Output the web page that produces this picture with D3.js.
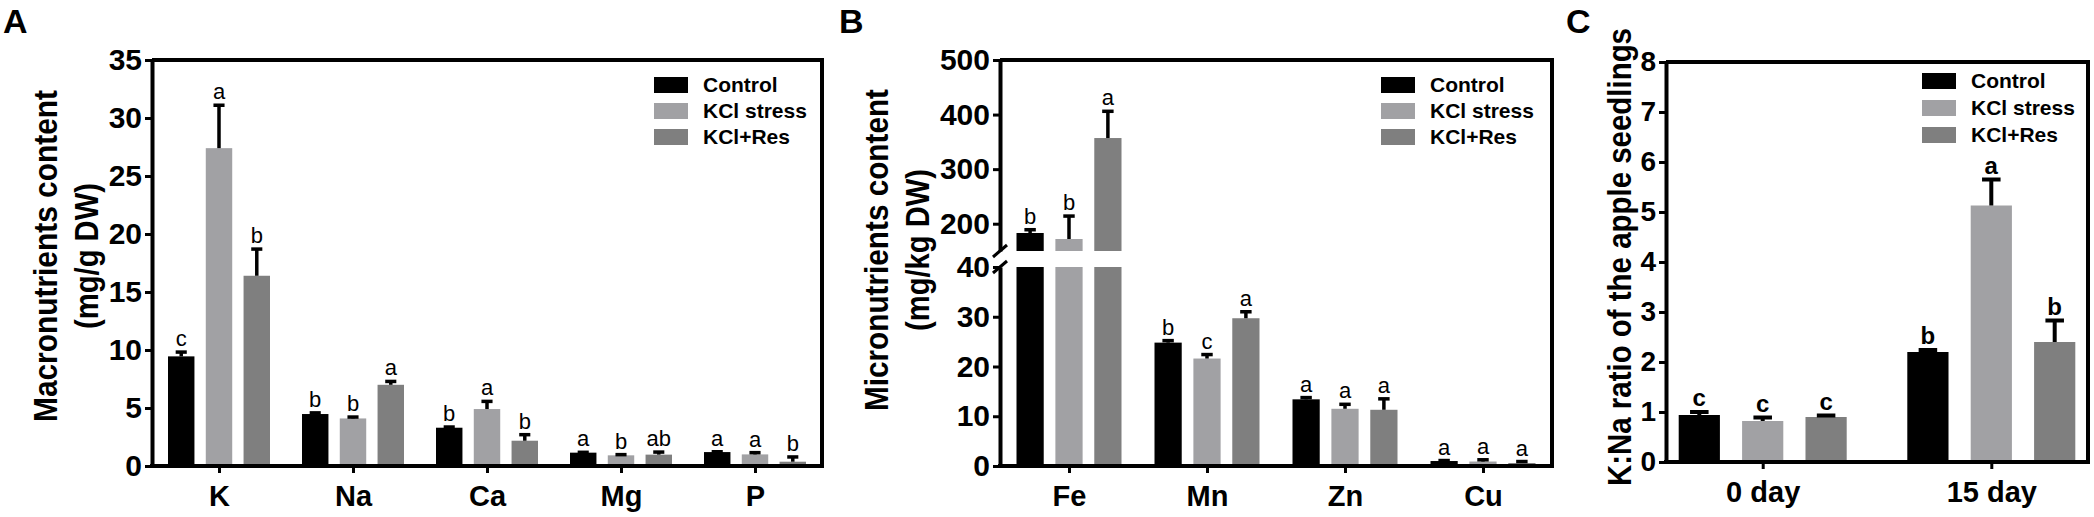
<!DOCTYPE html>
<html>
<head>
<meta charset="utf-8">
<script src="https://cdn.jsdelivr.net/npm/d3@7"></script>
<style>
  html, body { margin: 0; padding: 0; background: #fff; }
  svg { display: block; font-family: "Liberation Sans", Arial, sans-serif; }
</style>
</head>
<body>
<svg id="fig" width="2094" height="517"></svg>
<script>
// series shared by the three panels
var seriesNames = ["Control", "KCl stress", "KCl+Res"];

// panel A : macronutrients (mg/g DW)
var macroElements = ["K", "Na", "Ca", "Mg", "P"];
var macroControl = [9.45, 4.48, 3.3, 1.15, 1.2];
var macroControlErr = [0.37, 0.1, 0.06, 0.03, 0.03];
var macroKCl = [27.4, 4.1, 4.91, 0.92, 1.0];
var macroKClErr = [3.7, 0.12, 0.66, 0.06, 0.15];
var macroRes = [16.4, 7.0, 2.18, 0.98, 0.37];
var macroResErr = [2.3, 0.29, 0.52, 0.22, 0.41];
var macroControlSig = ["c", "b", "b", "a", "a"];
var macroKClSig = ["a", "b", "a", "b", "a"];
var macroResSig = ["b", "a", "b", "ab", "b"];
var macroTicks = [0, 5, 10, 15, 20, 25, 30, 35];

// panel B : micronutrients (mg/kg DW), broken axis
var microElements = ["Fe", "Mn", "Zn", "Cu"];
var microControl = [183, 24.8, 13.4, 1.0];
var microControlErr = [6, 0.4, 0.35, 0.1];
var microKCl = [172, 21.6, 11.5, 0.9];
var microKClErr = [42, 0.8, 0.9, 0.35];
var microRes = [357, 29.7, 11.3, 0.6];
var microResErr = [49, 1.3, 2.2, 0.3];
var microControlSig = ["b", "b", "a", "a"];
var microKClSig = ["b", "c", "a", "a"];
var microResSig = ["a", "a", "a", "a"];
var microLowTicks = [0, 10, 20, 30, 40];
var microHighTicks = [200, 300, 400, 500];

// panel C : K:Na ratio
var days = ["0 day", "15 day"];
var ratioControl = [0.94, 2.2];
var ratioControlErr = [0.06, 0.04];
var ratioKCl = [0.82, 5.13];
var ratioKClErr = [0.07, 0.52];
var ratioRes = [0.9, 2.4];
var ratioResErr = [0.03, 0.43];
var ratioControlSig = ["c", "b"];
var ratioKClSig = ["c", "a"];
var ratioResSig = ["c", "b"];
var ratioTicks = [0, 1, 2, 3, 4, 5, 6, 7, 8];

var colors = ["#000000", "#a1a1a4", "#7f7f7f"];
var svg = d3.select("#fig");

function rows(cats, vals, errs, sigs) {
  var out = [];
  cats.forEach(function(c, i) {
    seriesNames.forEach(function(s, j) {
      out.push({ cat: c, series: s, idx: j, v: vals[j][i], e: errs[j][i], sig: sigs[j][i] });
    });
  });
  return out;
}

function panel(o) {
  var g = svg.append("g");
  var x = d3.scalePoint().domain(o.cats).range([o.left, o.right]).padding(o.pad);
  var xi = d3.scaleBand().domain(seriesNames).range([-o.inner, o.inner]).paddingInner(o.gap);
  var bw = xi.bandwidth();
  var data = rows(o.cats, o.vals, o.errs, o.sigs);

  // bars
  data.forEach(function(d) {
    var bx = x(d.cat) + xi(d.series);
    o.segments(d.v).forEach(function(s) {
      g.append("rect").attr("x", bx).attr("width", bw)
        .attr("y", s[1]).attr("height", Math.max(0, s[0] - s[1]))
        .attr("fill", colors[d.idx]);
    });
    var cx = bx + bw / 2, yt = o.y(d.v + d.e), cw = bw * o.cap;
    g.append("line").attr("x1", cx).attr("x2", cx).attr("y1", o.y(d.v)).attr("y2", yt)
      .attr("stroke", "#000").attr("stroke-width", o.ew);
    g.append("line").attr("x1", cx - cw / 2).attr("x2", cx + cw / 2).attr("y1", yt).attr("y2", yt)
      .attr("stroke", "#000").attr("stroke-width", o.ew);
    g.append("text").attr("x", cx).attr("y", yt - 6).attr("text-anchor", "middle")
      .attr("font-size", o.sigSize).attr("font-weight", o.sigWeight).text(d.sig);
  });

  // frame top/right
  g.append("path").attr("d", "M" + o.left + "," + o.top + "H" + o.right + "V" + o.bottom)
    .attr("fill", "none").attr("stroke", "#000").attr("stroke-width", 4);

  // y axes
  o.axes.forEach(function(a) {
    var ax = g.append("g").attr("transform", "translate(" + o.left + ",0)")
      .call(d3.axisLeft(a.scale).tickValues(a.ticks).tickSize(7).tickSizeOuter(0).tickPadding(3));
    ax.select(".domain").attr("stroke-width", 4);
    ax.selectAll(".tick line").attr("stroke-width", 3);
    ax.selectAll("text").attr("font-size", o.tickSize).attr("font-weight", "bold").attr("fill", "#000");
  });

  // x axis
  var xa = g.append("g").attr("transform", "translate(0," + o.bottom + ")")
    .call(d3.axisBottom(x).tickSize(7).tickSizeOuter(0).tickPadding(12));
  xa.select(".domain").attr("stroke-width", 4).attr("d", "M" + (o.left - 2) + ",0H" + (o.right + 2));
  xa.selectAll(".tick line").attr("stroke-width", 3);
  xa.selectAll("text").attr("font-size", 29).attr("font-weight", "bold").attr("fill", "#000");

  // y title (slightly condensed like the original)
  o.title.forEach(function(t, i) {
    g.append("text").attr("transform", "translate(" + o.titleX[i] + "," + o.titleY + ") rotate(-90)")
      .attr("text-anchor", "middle").attr("dy", "0.35em")
      .attr("font-size", 33).attr("font-weight", "bold")
      .attr("textLength", o.titleLen[i]).attr("lengthAdjust", "spacingAndGlyphs").text(t);
  });

  // legend
  seriesNames.forEach(function(s, i) {
    var ly = o.legY + i * o.legStep;
    g.append("rect").attr("x", o.legX).attr("y", ly).attr("width", 34).attr("height", 16).attr("fill", colors[i]);
    g.append("text").attr("x", o.legX + 49).attr("y", ly + 15)
      .attr("font-size", 21).attr("font-weight", "bold").text(s);
  });

  // panel letter
  g.append("text").attr("x", o.labX).attr("y", 33).attr("font-size", 34).attr("font-weight", "bold").text(o.label);
  return g;
}

// A
var yA = d3.scaleLinear().domain([0, 35]).range([466, 60]);
panel({
  label: "A", labX: 3,
  cats: macroElements, left: 152, right: 822, top: 60, bottom: 466, pad: 0.5, inner: 51, gap: 0.3,
  vals: [macroControl, macroKCl, macroRes], errs: [macroControlErr, macroKClErr, macroResErr],
  sigs: [macroControlSig, macroKClSig, macroResSig],
  y: yA, segments: function(v) { return [[yA(0), yA(v)]]; },
  axes: [{ scale: yA, ticks: macroTicks }], tickSize: 30,
  cap: 0.42, ew: 3.5, sigSize: 22, sigWeight: "normal",
  title: ["Macronutrients content", "(mg/g DW)"], titleX: [45, 86], titleY: 256, titleLen: [332, 146],
  legX: 654, legY: 77, legStep: 26
});

// B (broken y axis)
var yBlow = d3.scaleLinear().domain([0, 40]).range([466, 267]);
var yBhigh = d3.scaleLinear().domain([150, 500]).range([251, 60]);
function yB(v) { return v <= 40 ? yBlow(v) : yBhigh(v); }
var gB = panel({
  label: "B", labX: 839,
  cats: microElements, left: 1000, right: 1552, top: 60, bottom: 466, pad: 0.5, inner: 52.5, gap: 0.3,
  vals: [microControl, microKCl, microRes], errs: [microControlErr, microKClErr, microResErr],
  sigs: [microControlSig, microKClSig, microResSig],
  y: yB,
  segments: function(v) {
    if (v <= 40) return [[yBlow(0), yBlow(v)]];
    return [[yBlow(0), yBlow(40)], [yBhigh(150), yBhigh(v)]];
  },
  axes: [{ scale: yBlow, ticks: microLowTicks }, { scale: yBhigh, ticks: microHighTicks }], tickSize: 30,
  cap: 0.42, ew: 3.5, sigSize: 22, sigWeight: "normal",
  title: ["Micronutrients content", "(mg/kg DW)"], titleX: [876, 917], titleY: 250, titleLen: [322, 162],
  legX: 1381, legY: 77, legStep: 26
});
// axis break marks
[yBhigh(150), yBlow(40)].forEach(function(yy) {
  gB.append("line").attr("x1", 993).attr("x2", 1007).attr("y1", yy + 6).attr("y2", yy - 6)
    .attr("stroke", "#000").attr("stroke-width", 3);
});

// C
var yC = d3.scaleLinear().domain([0, 8]).range([462, 62]);
panel({
  label: "C", labX: 1566,
  cats: days, left: 1666, right: 2088, top: 62, bottom: 462, pad: 0.423, inner: 84, gap: 0.35,
  vals: [ratioControl, ratioKCl, ratioRes], errs: [ratioControlErr, ratioKClErr, ratioResErr],
  sigs: [ratioControlSig, ratioKClSig, ratioResSig],
  y: yC, segments: function(v) { return [[yC(0), yC(v)]]; },
  axes: [{ scale: yC, ticks: ratioTicks }], tickSize: 28,
  cap: 0.45, ew: 4, sigSize: 24, sigWeight: "bold",
  title: ["K:Na ratio of the apple seedlings"], titleX: [1619], titleY: 257, titleLen: [458],
  legX: 1922, legY: 73, legStep: 27
});
</script>
</body>
</html>
